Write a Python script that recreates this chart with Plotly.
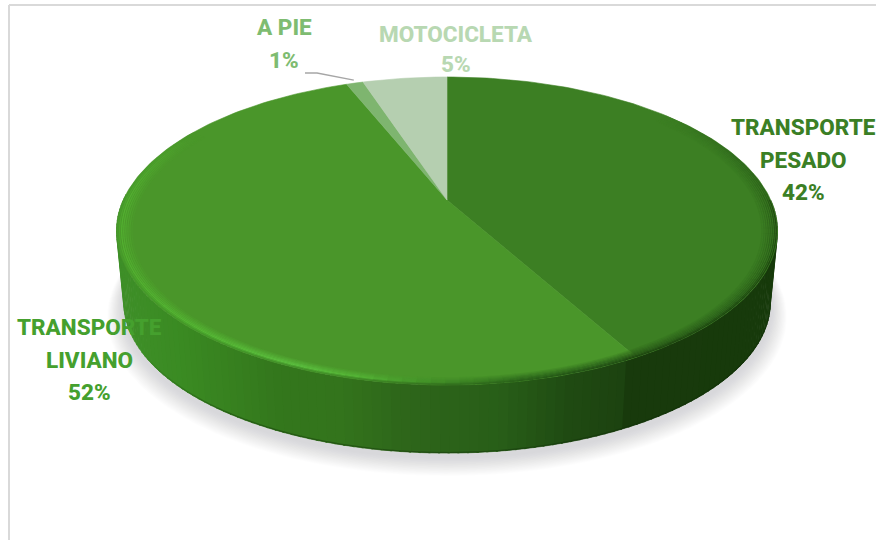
import numpy as np
import plotly.graph_objects as go

# Data
categories = ["TRANSPORTE PESADO", "TRANSPORTE LIVIANO", "A PIE", "MOTOCICLETA"]
values = [42, 52, 1, 5]
face_colors = ["#3c7f23", "#4a962a", "#7eb56f", "#b5cfb0"]
label_colors = ["#3b7f25", "#45a02e", "#7ebc71", "#b8d8b2"]
label_lines = [["TRANSPORTE", "PESADO"], ["TRANSPORTE", "LIVIANO"], ["A PIE"], ["MOTOCICLETA"]]
label_anchor = [(803.5, 127), (89.5, 327), (284, 27), (456, 34)]
label_step = [32.5, 32.5, 33, 30]

# Pie projection (perspective view of a disc)
CX, APEX, TOP, BOTTOM = 447.0, 200.0, 77.0, 385.0
c = (BOTTOM + TOP - 2 * APEX) / (BOTTOM - TOP)
a = TOP * (1 + c) - APEX
K = 330.5 * np.sqrt(1 - c * c)
ECY = 231.0
DEPTH_SCALE = 0.978
LOW_CY = 302.5


def project(theta_deg):
    t = np.radians(np.asarray(theta_deg, dtype=float))
    u, v = np.sin(t), np.cos(t)
    d = c * v + 1
    return CX + K * u / d, (a * v + APEX) / d


def lower(x, y):
    return CX + (x - CX) * DEPTH_SCALE, LOW_CY + (y - ECY) * DEPTH_SCALE


def hexrgb(h):
    return np.array([int(h[i:i + 2], 16) for i in (1, 3, 5)], dtype=float)


def mix(h1, h2, f):
    r = hexrgb(h1) * (1 - f) + hexrgb(h2) * f
    return "#%02x%02x%02x" % tuple(int(v) for v in r.round())


def ramp(stops, x):
    xs = [s[0] for s in stops]
    rgb = np.array([hexrgb(s[1]) for s in stops])
    return "#%02x%02x%02x" % tuple(int(round(np.interp(x, xs, rgb[:, i]))) for i in range(3))


fig = go.Figure()


def poly(xs, ys, color, opacity=1.0):
    fig.add_trace(go.Scatter(x=xs, y=ys, mode="lines", fill="toself", fillcolor=color,
                             line=dict(color=color, width=0.6), opacity=opacity,
                             hoverinfo="skip", showlegend=False))


# Soft shadow under the pie
tt = np.linspace(0, 360, 181)
px, py = project(tt)
for i in range(14):
    g = 1.0 + 0.0035 * (14 - i)
    sx, sy = lower(px, py)
    poly(CX + (sx - CX) * g, 306 + (sy - LOW_CY) * g + (14 - i) * 0.8, "#8a8a94", 0.02)

cum = np.cumsum([0] + values) / sum(values) * 360
boundary = cum[1]

# Side wall
WALL = [(122, "#3e8f28"), (180, "#3a8a22"), (280, "#33761c"), (340, "#33741c"), (400, "#2e661a"),
        (500, "#285e18"), (570, "#1f4a12"), (627, "#1c4210"), (629, "#183a0c"), (780, "#173a0b")]
N = 130
edges = np.linspace(90, 272, N + 1)
for t0, t1 in zip(edges[:-1], edges[1:]):
    th = np.linspace(t0, t1 + 0.3, 3)
    x, y = project(th)
    lx, ly = lower(x, y)
    col = ramp(WALL, x.mean())
    poly(np.r_[x, lx[::-1]], np.r_[y, ly[::-1]], col)
    if t1 < 240:
        dark = mix(col, "#0f2a08", 0.4 * min(1.0, (240 - t1) / 25))
        fig.add_trace(go.Scatter(x=lx, y=ly - 0.6, mode="lines", line=dict(color=dark, width=1.2),
                                 hoverinfo="skip", showlegend=False))

# Top faces
for i, cat in enumerate(categories):
    th = np.linspace(cum[i], cum[i + 1], max(3, int(values[i] * 3)))
    x, y = project(th)
    poly(np.r_[CX, x, CX], np.r_[APEX, y, APEX], face_colors[i])

# Bevelled rim along the front edge
RIM = [(117, "#52b030"), (200, "#56b835"), (290, "#5cc040"), (360, "#54b336"), (430, "#418f27"),
       (520, "#2f6c1d"), (627, "#2a5f1a"), (629, "#2a5c18"), (720, "#2a5f1a"), (780, "#2b6019")]
rim_edges = np.linspace(50, 300, 120)
offsets = [-7.5, -6.5, -5.5, -4.5, -3.5, -2.5, -1.5, -0.6]
for t0, t1 in zip(rim_edges[:-1], rim_edges[1:]):
    th = np.linspace(t0, t1 + 0.2, 3)
    x, y = project(th)
    mid = (t0 + t1) / 2
    face = face_colors[0] if mid < boundary else face_colors[1]
    rim = ramp(RIM, x.mean())
    wall = ramp(WALL, x.mean()) if mid > 90 else rim
    fade = np.clip((mid - 50) / 45, 0, 1) * np.clip((300 - mid) / 30, 0, 1)
    for off in offsets:
        if off < -2.5:
            col = mix(face, rim, (off + 8.5) / 6 * fade)
        else:
            col = mix(mix(face, rim, fade), wall, (off + 2.5) / 2.5 * 0.8 * min(fade, 1))
        s = 1 + off / 160
        fig.add_trace(go.Scatter(x=CX + (x - CX) * s, y=ECY + (y - ECY) * s, mode="lines",
                                 line=dict(color=col, width=1.3),
                                 hoverinfo="skip", showlegend=False))

# Leader line for the small slice
leader_x = [305, 317]
leader_y = [73, 73]
mid_small = (cum[2] + cum[3]) / 2
ex, ey = project(mid_small)
fig.add_trace(go.Scatter(x=leader_x + [float(ex) - 1], y=leader_y + [float(ey) - 3], mode="lines",
                         line=dict(color="#a6a6a6", width=1.4), hoverinfo="skip", showlegend=False))

# Labels
for i, cat in enumerate(categories):
    lines = label_lines[i] + [f"{values[i]}%"]
    ax, ay = label_anchor[i]
    for n, text in enumerate(lines):
        fig.add_annotation(x=ax, y=ay + n * label_step[i], text=text, showarrow=False,
                           xanchor="center", yanchor="middle", xref="x", yref="y",
                           font=dict(family="Roboto", size=22.5, color=label_colors[i], weight=800))

# Chart-area frame
fig.add_shape(type="line", x0=9, x1=876, y0=5, y1=5, line=dict(color="#d9d9d9", width=2))
fig.add_shape(type="line", x0=9, x1=9, y0=5, y1=540, line=dict(color="#d9d9d9", width=2))

fig.update_layout(width=876, height=540, margin=dict(l=0, r=0, t=0, b=0),
                  paper_bgcolor="white", plot_bgcolor="white", showlegend=False,
                  xaxis=dict(range=[0, 876], visible=False, fixedrange=True),
                  yaxis=dict(range=[540, 0], visible=False, fixedrange=True))
fig.write_html("out.html", config=dict(displayModeBar=False),
               post_script="document.body.style.margin='0';document.body.style.overflow='hidden';")
